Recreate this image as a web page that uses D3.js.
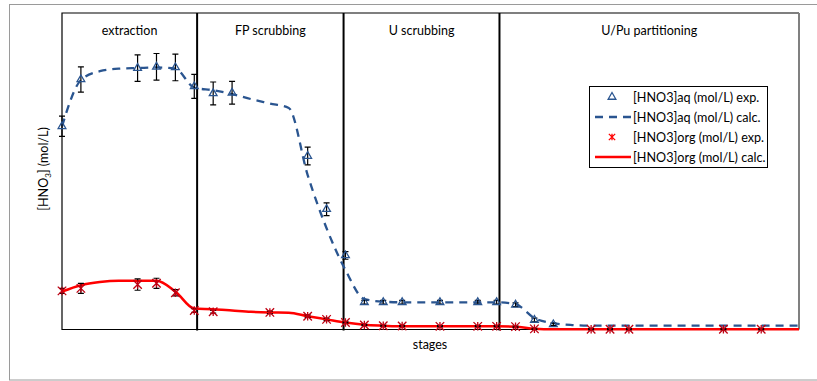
<!DOCTYPE html>
<html>
<head>
<meta charset="utf-8">
<script src="https://cdn.jsdelivr.net/npm/d3@7"></script>
<style>
    body { margin: 0; background: #fff; }
    text { font-family: Lato, "Open Sans", sans-serif; fill: #000; }
</style>
</head>
<body>
<script>
"use strict";

// stage sections (name and right boundary in stage units)
var sections = ["extraction", "FP scrubbing", "U scrubbing", "U/Pu partitioning"];
var sectionEnds = [8.15, 15.9, 24.15, 40];

// calculated profiles, one value per stage
var stages = [1, 2, 3, 4, 5, 6, 7, 8, 9, 10, 11, 12, 13, 14, 15, 16, 17, 18, 19, 20,
              21, 22, 23, 24, 25, 26, 27, 28, 29, 30, 31, 32, 33, 34, 35, 36, 37, 38, 39, 40];
var aqCalc = [3.21, 3.94, 4.08, 4.12, 4.13, 4.14, 4.12, 3.82, 3.78, 3.72,
              3.64, 3.57, 3.50, 2.44, 1.60, 0.94, 0.48, 0.44, 0.43, 0.43,
              0.43, 0.43, 0.43, 0.43, 0.40, 0.18, 0.10, 0.07, 0.06, 0.06,
              0.06, 0.06, 0.06, 0.06, 0.06, 0.06, 0.06, 0.06, 0.06, 0.06];
var orgCalc = [0.60, 0.70, 0.75, 0.77, 0.77, 0.77, 0.60, 0.33, 0.32, 0.30,
               0.28, 0.27, 0.265, 0.21, 0.16, 0.11, 0.075, 0.06, 0.05, 0.05,
               0.05, 0.05, 0.05, 0.05, 0.045, 0.013, 0.005, 0.005, 0.005, 0.005,
               0.005, 0.005, 0.005, 0.005, 0.005, 0.005, 0.005, 0.005, 0.005, 0.005];

// measured values
var aqStages = [1, 2, 5, 6, 7, 8, 9, 10, 14, 15, 16, 17, 18, 19, 21, 23, 24, 25, 26, 27];
var aqExp = [3.21, 3.95, 4.13, 4.15, 4.14, 3.84, 3.73, 3.74, 2.74, 1.90,
             1.17, 0.43, 0.43, 0.43, 0.43, 0.43, 0.43, 0.39, 0.15, 0.08];
var aqErr = [0.16, 0.20, 0.21, 0.21, 0.21, 0.19, 0.18, 0.18, 0.14, 0.10,
             0.06, 0.03, 0.03, 0.03, 0.03, 0.03, 0.03, 0.03, 0.03, 0.02];

var orgStages = [1, 2, 5, 6, 7, 8, 9, 12, 14, 15, 16, 17, 18, 19, 21, 23, 24, 25, 26, 29, 30, 31, 36, 38];
var orgExp = [0.61, 0.65, 0.71, 0.73, 0.58, 0.30, 0.28, 0.27, 0.21, 0.16,
              0.11, 0.07, 0.06, 0.055, 0.05, 0.05, 0.05, 0.045, 0.01, 0.005,
              0.005, 0.005, 0.005, 0.005];
var orgErr = [0.04, 0.08, 0.09, 0.08, 0.05, 0.03, 0.02, 0.02, 0.02, 0.02,
              0.01, 0.01, 0.01, 0.01, 0.01, 0.01, 0.01, 0.01, 0.01, 0.01,
              0.01, 0.01, 0.01, 0.01];

var legendLabels = ["[HNO3]aq (mol/L) exp.", "[HNO3]aq (mol/L) calc.",
                    "[HNO3]org (mol/L) exp.", "[HNO3]org (mol/L) calc."];

var width = 817,
    height = 381,
    plotLeft = 62,
    plotRight = 799,
    plotTop = 13,
    plotBottom = 329.5;

var blue = "#2a5590",
    red = "#ff0000",
    darkRed = "#c00012";

var xScale = d3.scaleLinear()
               .domain([1, 40])
               .range([plotLeft, plotRight]);

var yScale = d3.scaleLinear()
               .domain([0, 5])
               .range([plotBottom, plotTop]);

var svg = d3.select("body").append("svg")
    .attr("width", width)
    .attr("height", height);

// outer frame
svg.append("rect")
    .attr("x", 9.5).attr("y", 4.5)
    .attr("width", 830).attr("height", 375.5)
    .style("fill", "none")
    .style("stroke", "#9a9a9a")
    .style("stroke-width", 1);

// plot frame
svg.append("path")
    .attr("d", "M" + plotRight + "," + plotTop + "H" + plotLeft + "V" + plotBottom + "H" + plotRight)
    .style("fill", "none").style("stroke", "#000").style("stroke-width", 1.2);
svg.append("line")
    .attr("x1", plotRight).attr("x2", plotRight).attr("y1", plotTop).attr("y2", plotBottom)
    .style("stroke", "#808080").style("stroke-width", 2);

// section separators
svg.selectAll(".sep")
    .data(sectionEnds.slice(0, 3))
    .enter().append("line")
        .attr("x1", function(d) { return xScale(d); })
        .attr("x2", function(d) { return xScale(d); })
        .attr("y1", plotTop)
        .attr("y2", plotBottom + 1)
        .style("stroke", "#000")
        .style("stroke-width", 2);

svg.selectAll(".section")
    .data(sections)
    .enter().append("text")
        .attr("x", function(d, i) {
            var start = i === 0 ? 1 : sectionEnds[i - 1];
            return (xScale(start) + xScale(sectionEnds[i])) / 2;
        })
        .attr("y", 35)
        .attr("text-anchor", "middle")
        .style("font-size", "12.5px")
        .text(function(d) { return d; });

// calculated lines
var line = d3.line()
    .x(function(d) { return xScale(d[0]); })
    .y(function(d) { return yScale(d[1]); })
    .curve(d3.curveMonotoneX);

svg.append("path")
    .datum(d3.zip(stages, orgCalc))
    .attr("d", line)
    .style("fill", "none")
    .style("stroke", red)
    .style("stroke-width", 2.5);

svg.append("path")
    .datum(d3.zip(stages, aqCalc))
    .attr("d", line)
    .style("fill", "none")
    .style("stroke", blue)
    .style("stroke-width", 2.3)
    .style("stroke-dasharray", "8,6");

// error bars
function errorBars(xs, ys, errs) {
    var g = svg.append("g");
    var data = d3.zip(xs, ys, errs);
    g.selectAll("path")
        .data(data)
        .enter().append("path")
            .attr("d", function(d) {
                var x = xScale(d[0]),
                    y0 = yScale(d[1] - d[2]),
                    y1 = yScale(d[1] + d[2]);
                return "M" + (x - 3) + "," + y1 + "H" + (x + 3) +
                       "M" + x + "," + y1 + "V" + y0 +
                       "M" + (x - 3) + "," + y0 + "H" + (x + 3);
            })
            .style("fill", "none")
            .style("stroke", "#000")
            .style("stroke-width", 1.2);
}
errorBars(orgStages, orgExp, orgErr);
errorBars(aqStages, aqExp, aqErr);

// excel style star marker: an X with a vertical stroke
var symbolStar = {
    draw: function(context, size) {
        var r = Math.sqrt(size) / 2;
        context.moveTo(-r, -r); context.lineTo(r, r);
        context.moveTo(-r, r); context.lineTo(r, -r);
        context.moveTo(0, -r); context.lineTo(0, r);
    }
};

var triangle = d3.symbol().type(d3.symbolTriangle).size(26);
var star = d3.symbol().type(symbolStar).size(72);
var smallStar = d3.symbol().type(symbolStar).size(40);

svg.selectAll(".aqpt")
    .data(d3.zip(aqStages, aqExp))
    .enter().append("path")
        .attr("d", triangle)
        .attr("transform", function(d) {
            return "translate(" + xScale(d[0]) + "," + yScale(d[1]) + ")";
        })
        .style("fill", "none")
        .style("stroke", blue)
        .style("stroke-width", 1.3);

svg.selectAll(".orgpt")
    .data(d3.zip(orgStages, orgExp))
    .enter().append("path")
        .attr("d", star)
        .attr("transform", function(d) {
            return "translate(" + xScale(d[0]) + "," + yScale(d[1]) + ")";
        })
        .style("fill", "none")
        .style("stroke", darkRed)
        .style("stroke-width", 1.3);

// axis titles
svg.append("text")
    .attr("x", 430)
    .attr("y", 349)
    .attr("text-anchor", "middle")
    .style("font-size", "12.5px")
    .text("stages");

var yTitle = svg.append("text")
    .attr("transform", "translate(48,169) rotate(-90)")
    .attr("text-anchor", "middle")
    .style("font-size", "12.5px");
yTitle.append("tspan").text("[HNO");
yTitle.append("tspan").attr("dy", 3).style("font-size", "8px").text("3");
yTitle.append("tspan").attr("dy", -3).text("] (mol/L)");

// legend
var legend = svg.append("g");
legend.append("rect")
    .attr("x", 589.5).attr("y", 86.5)
    .attr("width", 178).attr("height", 81)
    .style("fill", "#fff")
    .style("stroke", "#000")
    .style("stroke-width", 1);

var rows = legend.selectAll(".row")
    .data(legendLabels)
    .enter().append("g")
        .attr("transform", function(d, i) { return "translate(0," + (97 + i * 20) + ")"; });

rows.append("text")
    .attr("x", 633)
    .attr("y", 4.5)
    .style("font-size", "12.6px")
    .text(function(d) { return d; });

rows.filter(function(d, i) { return i === 0; }).append("path")
    .attr("d", triangle)
    .attr("transform", "translate(612,0)")
    .style("fill", "none").style("stroke", blue).style("stroke-width", 1.3);
rows.filter(function(d, i) { return i === 1; }).append("line")
    .attr("x1", 595).attr("x2", 631)
    .style("stroke", blue).style("stroke-width", 2.3).style("stroke-dasharray", "8,6");
rows.filter(function(d, i) { return i === 2; }).append("path")
    .attr("d", smallStar)
    .attr("transform", "translate(612,0)")
    .style("fill", "none").style("stroke", red).style("stroke-width", 1.3);
rows.filter(function(d, i) { return i === 3; }).append("line")
    .attr("x1", 595).attr("x2", 631)
    .style("stroke", red).style("stroke-width", 2.5);
</script>
</body>
</html>
